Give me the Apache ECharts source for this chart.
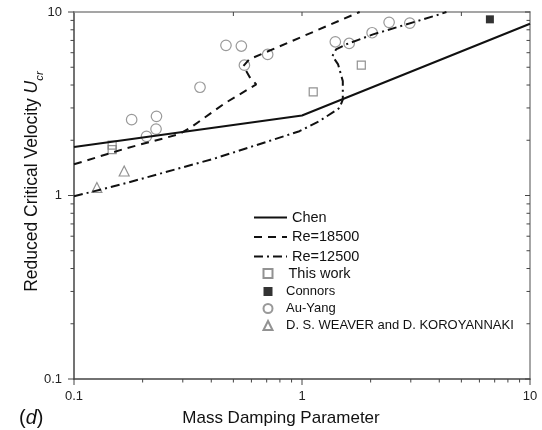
<!DOCTYPE html>
<html><head><meta charset="utf-8">
<script src="https://cdn.jsdelivr.net/npm/echarts/dist/echarts.min.js"></script>
<style>html,body{margin:0;padding:0;background:#fff}#c{width:542px;height:430px}</style>
</head><body><div id="c"></div>
<script>
// ---- data ----
const chenX = [0.1, 1.0, 10];
const chenY = [1.84, 2.73, 8.63];
const re18500X = [0.1, 0.17, 0.29, 0.33, 0.46, 0.63, 0.59, 0.553, 0.587, 1.79];
const re18500Y = [1.48, 1.81, 2.16, 2.38, 3.19, 4.03, 4.41, 5.07, 5.52, 10];
const re12500X = [0.1, 0.17, 0.42, 0.975, 1.19, 1.46, 1.51, 1.51, 1.44, 1.36, 1.41, 1.56, 2.05, 4.0, 4.3];
const re12500Y = [0.99, 1.17, 1.6, 2.24, 2.54, 3.0, 3.33, 4.2, 5.18, 5.75, 6.25, 6.66, 7.55, 9.7, 10];
const thisWorkX = [0.147, 0.147, 1.12, 1.82];
const thisWorkY = [1.88, 1.78, 3.67, 5.13];
const connorsX = [6.67];
const connorsY = [9.12];
const auYangX = [0.179, 0.230, 0.229, 0.208, 0.357, 0.464, 0.542, 0.559, 0.707, 1.40, 1.61, 2.03, 2.41, 2.97];
const auYangY = [2.59, 2.70, 2.30, 2.10, 3.89, 6.58, 6.52, 5.13, 5.87, 6.88, 6.74, 7.71, 8.78, 8.70];
const weaverX = [0.166, 0.126];
const weaverY = [1.36, 1.106];
const majorTicks = [0.1, 1, 10];
const minorTicks = [0.2,0.3,0.4,0.5,0.6,0.7,0.8,0.9,2,3,4,5,6,7,8,9];
const topTicks = [0.5, 1, 5];
const axisMin = 0.1, axisMax = 10;

const zip = (a, b) => a.map((v, i) => [v, b[i]]);
const FONT = 'Liberation Sans, Arial, sans-serif';
const chart = echarts.init(document.getElementById('c'));

function tickRender(params, api) {
  const ch = [];
  const L = (p, dx, dy) => ch.push({type:'line', shape:{x1:p[0], y1:p[1], x2:p[0]+dx, y2:p[1]+dy},
    style:{stroke:'#444', lineWidth:1}});
  majorTicks.forEach(v => { L(api.coord([v, axisMin]), 0, 6); L(api.coord([axisMin, v]), -6, 0); L(api.coord([axisMax, v]), -5, 0); });
  minorTicks.forEach(v => { L(api.coord([v, axisMin]), 0, 3.5); L(api.coord([axisMin, v]), -3.5, 0); L(api.coord([axisMax, v]), -3.5, 0); });
  topTicks.forEach(v => { L(api.coord([v, axisMax]), 0, 4); });
  return {type:'group', children: ch};
}

const lineBase = {type:'line', symbol:'none', silent:true, clip:true};
const openStyle = c => ({color:'rgba(255,255,255,0)', borderColor:c, borderWidth:1.2});

chart.setOption({
  animation:false,
  textStyle:{fontFamily:FONT},
  grid:{left:74, right:12, top:12, bottom:51, containLabel:false, outerBoundsMode:'none'},
  xAxis:[{
    type:'log', logBase:10, min:axisMin, max:axisMax,
    name:'Mass Damping Parameter', nameLocation:'middle', nameGap:31, nameMoveOverlap:false,
    nameTextStyle:{fontSize:17, color:'#111', fontFamily:FONT, padding:[0,42,0,0]},
    axisLine:{lineStyle:{color:'#444', width:1.5}},
    axisTick:{show:false}, minorTick:{show:false}, splitLine:{show:false},
    axisLabel:{fontSize:13, color:'#222', margin:11, fontFamily:FONT}
  },{
    type:'log', logBase:10, min:axisMin, max:axisMax, position:'top',
    axisLine:{lineStyle:{color:'#888', width:1.5}}, axisTick:{show:false},
    axisLabel:{show:false}, splitLine:{show:false}
  }],
  yAxis:[{
    type:'log', logBase:10, min:axisMin, max:axisMax,
    name:'{a|Reduced Critical Velocity }{u|U}{s|cr}', nameLocation:'middle', nameGap:32, nameRotate:90, nameMoveOverlap:false,
    nameTextStyle:{padding:[0,0,0,28], rich:{
      a:{fontSize:17.5, color:'#111', fontFamily:FONT, lineHeight:20},
      u:{fontSize:17.5, color:'#111', fontFamily:FONT, fontStyle:'italic', lineHeight:20},
      s:{fontSize:11.5, color:'#111', fontFamily:FONT, fontStyle:'italic', lineHeight:12, verticalAlign:'bottom', padding:[0,0,-4,0]}
    }},
    axisLine:{lineStyle:{color:'#444', width:1.5}},
    axisTick:{show:false}, minorTick:{show:false}, splitLine:{show:false},
    axisLabel:{fontSize:13, color:'#222', margin:12, fontFamily:FONT}
  },{
    type:'log', logBase:10, min:axisMin, max:axisMax, position:'right',
    axisLine:{lineStyle:{color:'#888', width:1.5}}, axisTick:{show:false},
    axisLabel:{show:false}, splitLine:{show:false}
  }],
  legend:[{
    orient:'vertical', left:253, top:210, padding:0, itemWidth:33, itemHeight:14, itemGap:4.5,
    selectedMode:false, data:['Chen','Re=18500','Re=12500'],
    itemStyle:{opacity:0},
    textStyle:{fontSize:14.5, color:'#111', fontFamily:FONT}
  },{
    orient:'vertical', left:262.5, top:266, padding:0, itemWidth:9, itemHeight:9, itemGap:4,
    selectedMode:false,
    data:[{name:'This work', textStyle:{fontSize:14.5, padding:[0,0,0,11]}}, 'Connors', 'Au-Yang', 'D. S. WEAVER and D. KOROYANNAKI'],
    textStyle:{fontSize:13, color:'#111', fontFamily:FONT, padding:[0,0,0,8.5]}
  }],
  graphic:[{
    type:'text', left:19, top:408,
    style:{text:'({i|d})', fontSize:20, fill:'#111', fontFamily:FONT,
      rich:{i:{fontSize:20, fontStyle:'italic', fill:'#111', fontFamily:FONT}}}
  }],
  series:[
    Object.assign({}, lineBase, {name:'Chen', data:zip(chenX, chenY), lineStyle:{color:'#111', width:2, type:'solid'}, itemStyle:{color:'#111'}}),
    Object.assign({}, lineBase, {name:'Re=18500', data:zip(re18500X, re18500Y), lineStyle:{color:'#111', width:2, type:[8,6]}, itemStyle:{color:'#111'}}),
    Object.assign({}, lineBase, {name:'Re=12500', data:zip(re12500X, re12500Y), lineStyle:{color:'#111', width:2, type:[9,4,2,4]}, itemStyle:{color:'#111'}}),
    {type:'scatter', name:'This work', data:zip(thisWorkX, thisWorkY), symbol:'rect', symbolSize:8, itemStyle:openStyle('#777')},
    {type:'scatter', name:'Connors', data:zip(connorsX, connorsY), symbol:'rect', symbolSize:8, itemStyle:{color:'#000'}},
    {type:'scatter', name:'Au-Yang', data:zip(auYangX, auYangY), symbol:'circle', symbolSize:10.5, itemStyle:openStyle('#808080')},
    {type:'scatter', name:'D. S. WEAVER and D. KOROYANNAKI', data:zip(weaverX, weaverY), symbol:'triangle', symbolSize:10, itemStyle:openStyle('#777')},
    {type:'custom', name:'ticks', data:[[1,1]], renderItem:tickRender, clip:false, silent:true, z:5}
  ]
});
</script>
</body></html>
